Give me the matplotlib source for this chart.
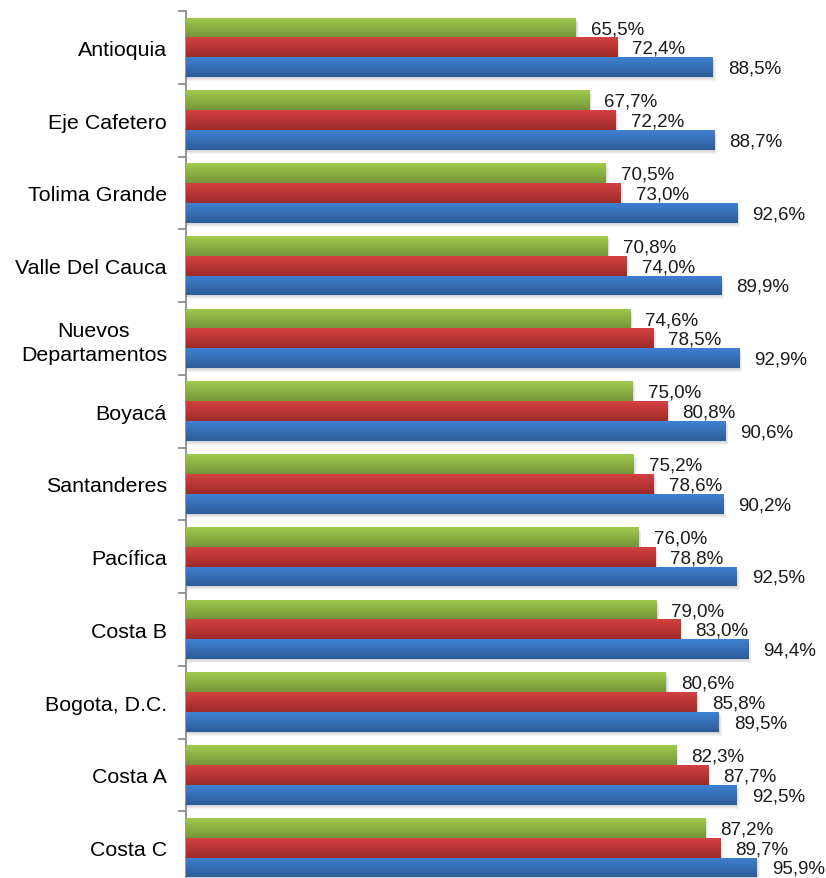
import numpy as np
import matplotlib
matplotlib.use("Agg")
import matplotlib.pyplot as plt
from matplotlib.colors import to_rgb

plt.rcParams["font.family"] = ["Liberation Sans", "DejaVu Sans"]

# ------------------------------------------------------------------ data
regions = ["Antioquia", "Eje Cafetero", "Tolima Grande", "Valle Del Cauca",
           "Nuevos\nDepartamentos", "Boyacá", "Santanderes", "Pacífica",
           "Costa B", "Bogota, D.C.", "Costa A", "Costa C"]
green_vals = [65.5, 67.7, 70.5, 70.8, 74.6, 75.0, 75.2, 76.0, 79.0, 80.6, 82.3, 87.2]
red_vals = [72.4, 72.2, 73.0, 74.0, 78.5, 80.8, 78.6, 78.8, 83.0, 85.8, 87.7, 89.7]
blue_vals = [88.5, 88.7, 92.6, 89.9, 92.9, 90.6, 90.2, 92.5, 94.4, 89.5, 92.5, 95.9]

# (top colour, bottom colour) for the vertical gradient of each series
series = [
    (green_vals, ("#a0cb4c", "#76963a"), -1),
    (red_vals, ("#d44141", "#9f2a2a"), 0),
    (blue_vals, ("#4081d2", "#2c5c99"), 1),
]

# ---------------------------------------------------------------- figure
fig = plt.figure(figsize=(8.26, 8.79), dpi=100)
ax = fig.add_axes([186 / 826, -6 / 879, 595.4 / 826, 873 / 879])

n = len(regions)
ypos = np.arange(n)
h = 0.272
px = 1.0 / 72.7  # one pixel in y data units

for vals, (ctop, cbot), k in series:
    grad = np.linspace(0, 1, 32)[:, None, None]
    img = (1 - grad) * np.array(to_rgb(ctop)) + grad * np.array(to_rgb(cbot))
    for i, v in enumerate(vals):
        yc = ypos[i] + k * h
        # soft drop shadow
        for s in range(1, 5):
            ax.barh(yc + s * px, v + s * 0.12, height=h, left=0,
                    color="#000000", alpha=0.045, linewidth=0, zorder=1)
        bar = ax.barh(yc, v, height=h, left=0, color=ctop, linewidth=0,
                      zorder=2)[0]
        im = ax.imshow(img, extent=(0, v, yc + h / 2, yc - h / 2),
                       origin="upper", aspect="auto", interpolation="bilinear",
                       zorder=3)
        im.set_clip_path(bar)
        ax.annotate(f"{v:.1f}%".replace(".", ","), xy=(v, yc),
                    xytext=(15, -1), textcoords="offset pixels",
                    ha="left", va="center", fontsize=13.5, color="#1a1a1a")

ax.set_xlim(0, 100)
ax.set_ylim(n - 0.5, -0.5)

for sp in ("top", "right", "bottom"):
    ax.spines[sp].set_visible(False)
ax.spines["left"].set_color("#8c8c8c")
ax.spines["left"].set_linewidth(1.3)

ax.set_xticks([])
ax.set_yticks(ypos)
ax.set_yticklabels(regions, fontsize=15.4, linespacing=1.3)
ax.tick_params(axis="y", which="major", length=0, pad=13.7)
ax.set_yticks(np.arange(-0.5, n), minor=True)
ax.tick_params(axis="y", which="minor", length=6, width=1.3, color="#8c8c8c")
for lab in ax.get_yticklabels():
    lab.set_multialignment("center")

fig.savefig("out.png", dpi=100)
